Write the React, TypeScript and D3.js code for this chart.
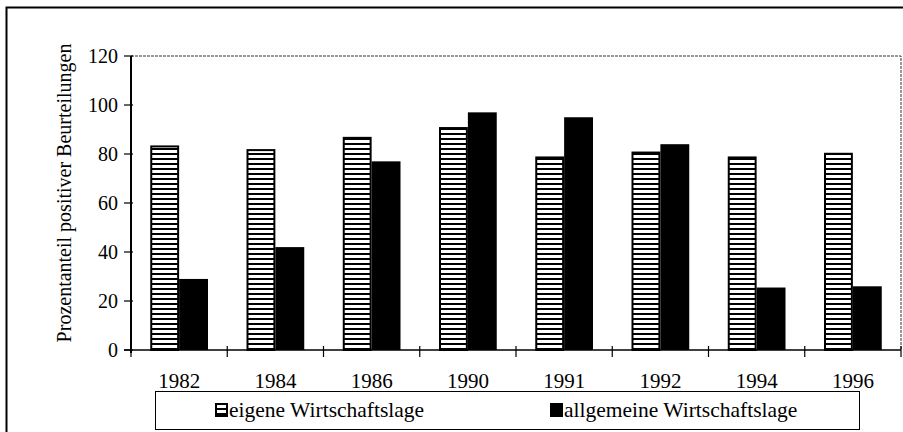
import { useEffect, useRef } from 'react';
import * as d3 from 'd3';

const years = ['1982', '1984', '1986', '1990', '1991', '1992', '1994', '1996'];
const eigene = [83.5, 82, 87, 91, 79, 81, 79, 80.5];
const allgemeine = [29, 42, 77, 97, 95, 84, 25.5, 26];
const yTicks = [0, 20, 40, 60, 80, 100, 120];

export default function App() {
  const svgRef = useRef<SVGSVGElement>(null);

  useEffect(() => {
    if (!svgRef.current) return;
    const svg = d3.select(svgRef.current);
    svg.selectAll('*').remove();

    const font = '"Liberation Serif", "DejaVu Serif", serif';
    const left = 131, right = 901, top = 56, bottom = 350;

    // stripe pattern for the "eigene" bars
    const defs = svg.append('defs');
    const pat = defs.append('pattern')
      .attr('id', 'stripes')
      .attr('patternUnits', 'userSpaceOnUse')
      .attr('width', 6)
      .attr('height', 5);
    pat.append('rect').attr('width', 6).attr('height', 5).attr('fill', '#fff');
    pat.append('rect').attr('y', 3).attr('width', 6).attr('height', 2).attr('fill', '#000');

    // outer frame
    svg.append('rect')
      .attr('x', 6.5).attr('y', 7.5)
      .attr('width', 910).attr('height', 440)
      .attr('fill', 'none').attr('stroke', '#000').attr('stroke-width', 2);

    const x = d3.scaleBand<string>().domain(years).range([left, right]);
    const bw = x.bandwidth();
    const x1 = d3.scaleBand<string>().domain(['e', 'a']).range([bw * 0.2, bw * 0.8]);
    const y = d3.scaleLinear().domain([0, 120]).range([bottom, top]);

    // plot area border (top/right, dotted look)
    svg.append('path')
      .attr('d', `M${left},${top}H${right}V${bottom}`)
      .attr('fill', 'none').attr('stroke', '#333').attr('stroke-width', 1)
      .attr('stroke-dasharray', '3,1');

    const g = svg.append('g');
    const groups = g.selectAll('g.grp')
      .data(years)
      .join('g')
      .attr('class', 'grp')
      .attr('transform', d => `translate(${x(d)},0)`);

    groups.append('rect')
      .attr('x', x1('e')! + 1)
      .attr('y', (_, i) => y(eigene[i]) + 1)
      .attr('width', x1.bandwidth() - 2)
      .attr('height', (_, i) => bottom - y(eigene[i]) - 1)
      .attr('fill', 'url(#stripes)')
      .attr('stroke', '#000').attr('stroke-width', 2);

    groups.append('rect')
      .attr('x', x1('a')!)
      .attr('y', (_, i) => y(allgemeine[i]))
      .attr('width', x1.bandwidth())
      .attr('height', (_, i) => bottom - y(allgemeine[i]))
      .attr('fill', '#000');

    // y axis
    svg.append('line')
      .attr('x1', left).attr('x2', left).attr('y1', top).attr('y2', bottom + 3)
      .attr('stroke', '#000').attr('stroke-width', 2);
    svg.selectAll('line.yt').data(yTicks).join('line')
      .attr('class', 'yt')
      .attr('x1', left - 7).attr('x2', left + 2)
      .attr('y1', d => y(d)).attr('y2', d => y(d))
      .attr('stroke', '#000').attr('stroke-width', 1.2);
    svg.selectAll('text.yl').data(yTicks).join('text')
      .attr('class', 'yl')
      .attr('x', left - 13).attr('y', d => y(d) + 7)
      .attr('text-anchor', 'end')
      .attr('font-family', font).attr('font-size', 20)
      .text(d => d);

    // x axis
    svg.append('line')
      .attr('x1', left - 7).attr('x2', right).attr('y1', bottom).attr('y2', bottom)
      .attr('stroke', '#000').attr('stroke-width', 1.5);
    const bounds = years.map(d => x(d)!).concat([right]);
    svg.selectAll('line.xt').data(bounds).join('line')
      .attr('class', 'xt')
      .attr('x1', d => d).attr('x2', d => d)
      .attr('y1', bottom - 4).attr('y2', bottom + 7)
      .attr('stroke', '#000').attr('stroke-width', 1.2);
    svg.selectAll('text.xl').data(years).join('text')
      .attr('class', 'xl')
      .attr('x', d => x(d)! + bw / 2).attr('y', 388)
      .attr('text-anchor', 'middle')
      .attr('font-family', font).attr('font-size', 21)
      .text(d => d);

    // y title
    svg.append('text')
      .attr('transform', `translate(71,${(top + bottom) / 2 - 10}) rotate(-90)`)
      .attr('text-anchor', 'middle')
      .attr('font-family', font).attr('font-size', 20)
      .text('Prozentanteil positiver Beurteilungen');

    // legend
    svg.append('rect')
      .attr('x', 155.5).attr('y', 391.5).attr('width', 704).attr('height', 38)
      .attr('fill', '#fff').attr('stroke', '#000').attr('stroke-width', 1);
    svg.append('rect')
      .attr('x', 216).attr('y', 404).attr('width', 11).attr('height', 12)
      .attr('fill', 'url(#stripes)').attr('stroke', '#000').attr('stroke-width', 2);
    svg.append('text')
      .attr('x', 229).attr('y', 417)
      .attr('font-family', font).attr('font-size', 21.5)
      .text('eigene Wirtschaftslage');
    svg.append('rect')
      .attr('x', 550).attr('y', 403).attr('width', 13).attr('height', 14)
      .attr('fill', '#000');
    svg.append('text')
      .attr('x', 564).attr('y', 417)
      .attr('font-family', font).attr('font-size', 21.5)
      .text('allgemeine Wirtschaftslage');
  }, []);

  return (
    <svg
      ref={svgRef}
      width={903}
      height={432}
      style={{ position: 'fixed', left: 0, top: 0, background: '#fff' }}
    />
  );
}
